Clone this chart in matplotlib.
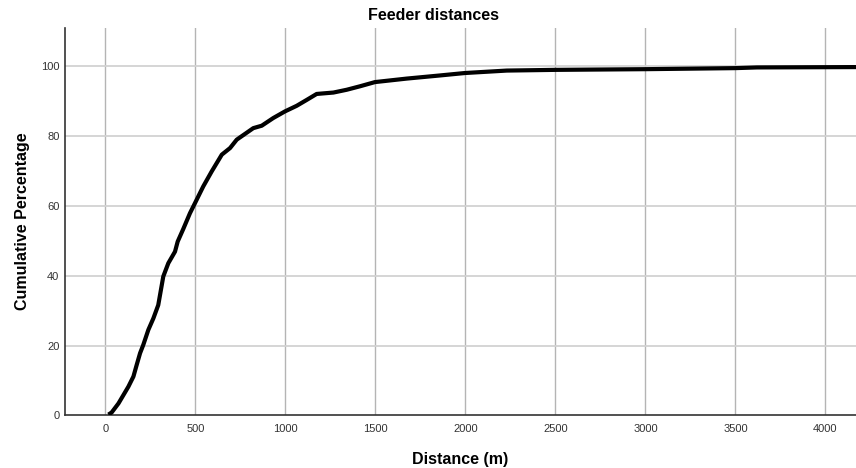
import numpy as np
import matplotlib
matplotlib.use("Agg")
import matplotlib.pyplot as plt

plt.rcParams['font.family'] = ['Liberation Sans', 'DejaVu Sans']

# Data
distance = [17, 35, 73, 128, 156, 174, 193, 211, 239, 267, 294, 322, 350, 387,
            402, 433, 470, 498, 544, 591, 647, 693, 730, 822, 869, 933, 998,
            1063, 1119, 1174, 1267, 1341, 1415, 1498, 1674, 1859, 1998, 2230,
            2498, 2748, 3000, 3500, 3620, 4170]
cum_pct = [0.2, 0.8, 3.4, 8.2, 11.1, 14.4, 17.8, 20.2, 24.5, 27.8, 31.6, 39.8,
           43.6, 46.9, 49.8, 53.4, 57.9, 60.8, 65.6, 69.9, 74.7, 76.6, 79.0,
           82.3, 83.0, 85.2, 87.1, 88.7, 90.4, 92.1, 92.5, 93.3, 94.3, 95.5,
           96.5, 97.4, 98.1, 98.8, 99.0, 99.1, 99.2, 99.5, 99.7, 99.8]

x_ticks = [0, 500, 1000, 1500, 2000, 2500, 3000, 3500, 4000]
y_ticks = [0, 20, 40, 60, 80, 100]

fig = plt.figure(figsize=(8.56, 4.68), dpi=100)
ax = fig.add_axes([65 / 856, 1 - 415.3 / 468, 1 - 65 / 856, (415.3 - 28) / 468])

ax.plot(distance, cum_pct, color='black', lw=3, solid_capstyle='butt', zorder=3)

ax.set_xlim(-224, 4170)
ax.set_ylim(0, 111)
ax.set_xticks(x_ticks)
ax.set_yticks(y_ticks)

# gridlines: vertical darker, horizontal lighter
for t in x_ticks:
    ax.axvline(t, color='#b4b4b4', lw=1, zorder=1)
for t in y_ticks[1:]:
    ax.axhline(t, color='#d2d2d2', lw=1.3, zorder=1)

for s in ['top', 'right']:
    ax.spines[s].set_visible(False)
for s in ['left', 'bottom']:
    ax.spines[s].set_color('#333333')
    ax.spines[s].set_linewidth(1.2)

ax.tick_params(length=0, labelsize=8, labelcolor='#333333')
ax.tick_params(axis='x', pad=6)
ax.tick_params(axis='y', pad=4)

ax.set_xlabel('Distance (m)', fontsize=11.5, fontweight='bold', labelpad=13)
ax.set_ylabel('Cumulative Percentage', fontsize=11.5, fontweight='bold', labelpad=8)
fig.text(433 / 856, 1 - 15 / 468, 'Feeder distances', ha='center', va='center',
         fontsize=11.5, fontweight='bold')

fig.savefig('out.png', dpi=100)
